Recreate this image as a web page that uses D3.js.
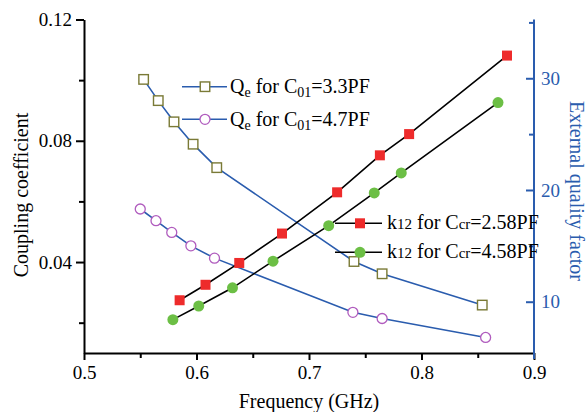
<!DOCTYPE html>
<html>
<head>
<meta charset="utf-8">
<script src="https://cdn.jsdelivr.net/npm/d3@7"></script>
<style>
  body { margin: 0; background: #fff; }
  text { font-family: "Liberation Serif", "Times New Roman", serif; }
</style>
</head>
<body>
<svg id="chart" width="587" height="412"></svg>
<script>
// data
var freqQe33 = [0.553, 0.566, 0.580, 0.597, 0.618, 0.740, 0.765, 0.854];
var qe33     = [29.9, 28.0, 26.1, 24.1, 22.0, 13.6, 12.5, 9.7];
var freqQe47 = [0.550, 0.564, 0.578, 0.595, 0.616, 0.739, 0.765, 0.857];
var qe47     = [18.3, 17.25, 16.2, 15.0, 13.9, 9.05, 8.5, 6.8];
var freqK258 = [0.585, 0.608, 0.638, 0.676, 0.725, 0.763, 0.789, 0.876];
var k258     = [0.0274, 0.0325, 0.0397, 0.0494, 0.0630, 0.0752, 0.0822, 0.1081];
var freqK458 = [0.579, 0.602, 0.632, 0.668, 0.7175, 0.758, 0.782, 0.868];
var k458     = [0.0210, 0.0255, 0.0315, 0.0403, 0.0520, 0.0628, 0.0694, 0.0926];

var xTicks = [0.5, 0.6, 0.7, 0.8, 0.9];
var xMinor = [0.55, 0.65, 0.75, 0.85];
var yTicks = [0.04, 0.08, 0.12];
var yMinor = [0.02, 0.06, 0.10];
var qTicks = [10, 20, 30];
var qMinor = [15, 25, 35];

var blue = "#2a5cae", olive = "#7a7a36", purple = "#b05cbe",
    red = "#ee2b2b", green = "#6cbf45";

var svg = d3.select("#chart");

var x = d3.scaleLinear().domain([0.5, 0.9]).range([84, 534]);
var y = d3.scaleLinear().domain([0.01, 0.12]).range([353, 19.5]);
var yR = d3.scaleLinear().domain([5.41, 35.26]).range([353, 19.5]);

//--------------------------------- axes ---------------------------------//
function styleAxis(g, color) {
  g.selectAll("path").attr("stroke", color).attr("stroke-width", 2);
  g.selectAll("line").attr("stroke", color).attr("stroke-width", 2);
  g.selectAll("text").attr("fill", color).style("font-size", "19px")
    .style("font-family", "Liberation Serif");
}

// bottom
var gx = svg.append("g").attr("transform", "translate(0,353)")
  .call(d3.axisBottom(x).tickValues(xTicks).tickSize(7).tickSizeOuter(0)
    .tickPadding(6).tickFormat(d3.format(".1f")));
svg.append("g").attr("transform", "translate(0,353)")
  .call(d3.axisBottom(x).tickValues(xMinor).tickSize(5).tickSizeOuter(0).tickFormat(""))
  .call(function(g){ g.select("path").remove(); styleAxis(g, "#000"); });
styleAxis(gx, "#000");

// left
var gy = svg.append("g").attr("transform", "translate(84,0)")
  .call(d3.axisLeft(y).tickValues(yTicks).tickSize(8).tickSizeOuter(0)
    .tickPadding(4).tickFormat(d3.format(".2f")));
svg.append("g").attr("transform", "translate(84,0)")
  .call(d3.axisLeft(y).tickValues(yMinor).tickSize(5).tickSizeOuter(0).tickFormat(""))
  .call(function(g){ g.select("path").remove(); styleAxis(g, "#000"); });
styleAxis(gy, "#000");

// right (ticks point inward)
var gr = svg.append("g").attr("transform", "translate(534,0)")
  .call(d3.axisRight(yR).tickValues(qTicks).tickSize(-8).tickSizeOuter(0)
    .tickPadding(7));
svg.append("g").attr("transform", "translate(534,0)")
  .call(d3.axisRight(yR).tickValues(qMinor).tickSize(-5).tickSizeOuter(0).tickFormat(""))
  .call(function(g){ g.select("path").remove(); styleAxis(g, blue); });
styleAxis(gr, blue);
gr.select("path").attr("d", "M0,19.5V359");

// axis titles
svg.append("text").attr("x", 309).attr("y", 408).attr("text-anchor", "middle")
  .style("font-size", "20px").text("Frequency (GHz)");
svg.append("text").attr("transform", "translate(28,195) rotate(-90)")
  .attr("text-anchor", "middle").style("font-size", "20px").text("Coupling coefficient");
svg.append("text").attr("transform", "translate(570,191) rotate(90)")
  .attr("text-anchor", "middle").attr("fill", blue).style("font-size", "20px")
  .text("External quality factor");

//--------------------------------- series ---------------------------------//
function pts(fs, vs) { return fs.map(function(f, i){ return [f, vs[i]]; }); }

var qe33Pts = pts(freqQe33, qe33), qe47Pts = pts(freqQe47, qe47),
    k258Pts = pts(freqK258, k258), k458Pts = pts(freqK458, k458);

var lineR = d3.line().x(function(d){ return x(d[0]); }).y(function(d){ return yR(d[1]); });
var lineL = d3.line().x(function(d){ return x(d[0]); }).y(function(d){ return y(d[1]); });

svg.append("path").attr("d", lineR(qe33Pts)).attr("fill", "none").attr("stroke", blue).attr("stroke-width", 1.6);
svg.append("path").attr("d", lineR(qe47Pts)).attr("fill", "none").attr("stroke", blue).attr("stroke-width", 1.6);
svg.append("path").attr("d", lineL(k258Pts)).attr("fill", "none").attr("stroke", "#000").attr("stroke-width", 1.6);
svg.append("path").attr("d", lineL(k458Pts)).attr("fill", "none").attr("stroke", "#000").attr("stroke-width", 1.6);

function squares(data, sy, fill, stroke, s) {
  svg.append("g").selectAll("rect").data(data).enter().append("rect")
    .attr("x", function(d){ return x(d[0]) - s / 2; })
    .attr("y", function(d){ return sy(d[1]) - s / 2; })
    .attr("width", s).attr("height", s)
    .attr("fill", fill).attr("stroke", stroke).attr("stroke-width", 1.4);
}
function circles(data, sy, fill, stroke, r) {
  svg.append("g").selectAll("circle").data(data).enter().append("circle")
    .attr("cx", function(d){ return x(d[0]); })
    .attr("cy", function(d){ return sy(d[1]); })
    .attr("r", r).attr("fill", fill).attr("stroke", stroke).attr("stroke-width", 1.3);
}
squares(qe33Pts, yR, "#fff", olive, 9.5);
circles(qe47Pts, yR, "#fff", purple, 5);
squares(k258Pts, y, red, "none", 10);
circles(k458Pts, y, green, "none", 5.5);

//--------------------------------- legends ---------------------------------//
function legendLine(x0, x1, ly, color) {
  svg.append("line").attr("x1", x0).attr("x2", x1).attr("y1", ly).attr("y2", ly)
    .attr("stroke", color).attr("stroke-width", 1.6);
}
legendLine(182, 227, 86.7, blue);
svg.append("rect").attr("x", 205 - 4.75).attr("y", 86.7 - 4.75).attr("width", 9.5).attr("height", 9.5)
  .attr("fill", "#fff").attr("stroke", olive).attr("stroke-width", 1.4);
legendLine(182, 227, 119.3, blue);
svg.append("circle").attr("cx", 205).attr("cy", 119.3).attr("r", 5)
  .attr("fill", "#fff").attr("stroke", purple).attr("stroke-width", 1.3);

legendLine(335, 382, 223.3, "#000");
svg.append("rect").attr("x", 360 - 5).attr("y", 223.3 - 5).attr("width", 10).attr("height", 10).attr("fill", red);
legendLine(335, 382, 252.3, "#000");
svg.append("circle").attr("cx", 360).attr("cy", 252.3).attr("r", 5.5).attr("fill", green);

function qeLabel(lx, ly, val) {
  var t = svg.append("text").attr("x", lx).attr("y", ly).style("font-size", "20px");
  t.append("tspan").text("Q");
  t.append("tspan").attr("dy", 4).style("font-size", "14px").text("e");
  t.append("tspan").attr("dy", -4).text(" for C");
  t.append("tspan").attr("dy", 4).style("font-size", "14px").text("01");
  t.append("tspan").attr("dy", -4).text("=" + val + "PF");
}
qeLabel(230, 93.3, "3.3");
qeLabel(230, 126, "4.7");

function kLabel(lx, ly, val) {
  var t = svg.append("text").attr("x", lx).attr("y", ly).style("font-size", "20px");
  t.append("tspan").text("k");
  t.append("tspan").style("font-size", "15px").text("12");
  t.append("tspan").text(" for C");
  t.append("tspan").style("font-size", "15px").text("cr");
  t.append("tspan").text("=" + val + "PF");
}
kLabel(387, 229, "2.58");
kLabel(387, 258, "4.58");
</script>
</body>
</html>
